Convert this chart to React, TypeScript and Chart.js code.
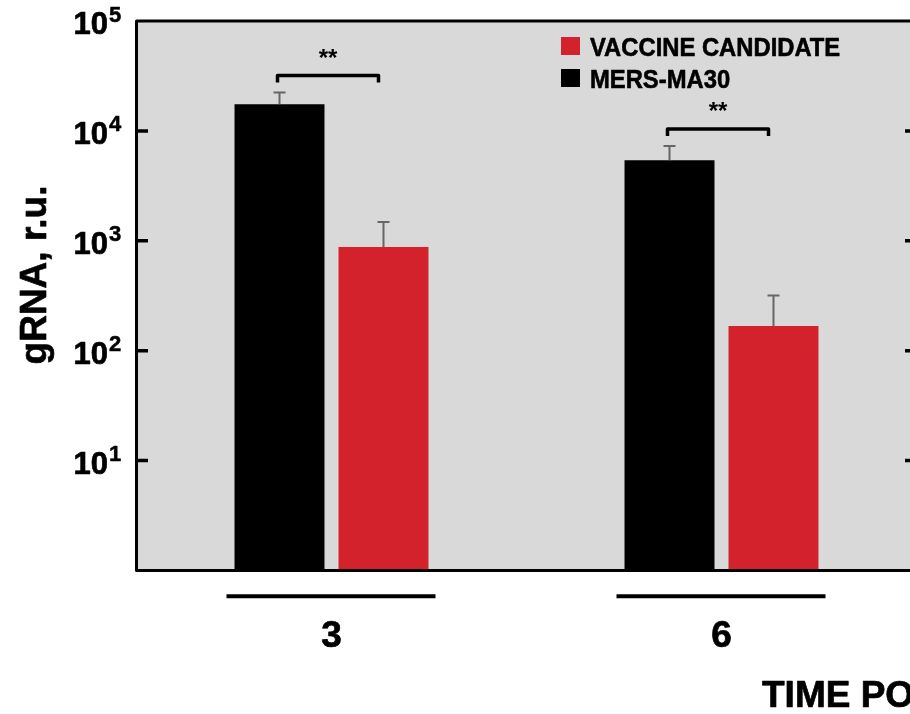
import React, { useEffect, useRef } from "react";
import { Chart, registerables } from "chart.js";

Chart.register(...registerables);

// Data: viral gRNA (relative units) per time point, mean and upper error
const timePoints = ["3", "6"];
const mersMeans = [17500, 5400];
const mersErrors = [4800, 1900];
const vaccineMeans = [880, 168];
const vaccineErrors = [600, 150];
const significance = ["**", "**"];
const decadeExponents = [1, 2, 3, 4, 5];
const seriesLabels = ["MERS-MA30", "VACCINE CANDIDATE"];
const seriesColors = ["#000000", "#d3222b"];
const yAxisTitle = "gRNA, r.u.";
const xAxisTitle = "TIME POINTS";

const FONT = '"Liberation Sans", Arial, Helvetica, sans-serif';
const errorSets = [mersErrors, vaccineErrors];
const meanSets = [mersMeans, vaccineMeans];

// heavy text: fill plus a thin outline of the same colour
function heavyText(ctx: CanvasRenderingContext2D, text: string, x: number, y: number, w = 0.7) {
  ctx.fillText(text, x, y);
  ctx.lineWidth = w;
  ctx.lineJoin = "round";
  ctx.strokeText(text, x, y);
}

const figurePlugin = {
  id: "figureDecor",
  beforeDraw(chart: any) {
    const { ctx, chartArea: a } = chart;
    ctx.save();
    ctx.fillStyle = "#d9d9d9";
    ctx.fillRect(a.left, a.top, a.right - a.left, a.bottom - a.top);
    ctx.restore();
  },
  afterDatasetsDraw(chart: any) {
    const { ctx, chartArea: a } = chart;
    const yScale = chart.scales.y;
    const xScale = chart.scales.x;
    ctx.save();

    // error bars (upper only)
    ctx.strokeStyle = "#666666";
    ctx.lineWidth = 2;
    const errTops: number[][] = [];
    chart.data.datasets.forEach((_: any, d: number) => {
      const meta = chart.getDatasetMeta(d);
      errTops[d] = [];
      meta.data.forEach((el: any, i: number) => {
        const top = yScale.getPixelForValue(meanSets[d][i] + errorSets[d][i]);
        errTops[d][i] = top;
        ctx.beginPath();
        ctx.moveTo(el.x, el.y);
        ctx.lineTo(el.x, top);
        ctx.moveTo(el.x - 6, top);
        ctx.lineTo(el.x + 6, top);
        ctx.stroke();
      });
    });

    // significance brackets
    const m0 = chart.getDatasetMeta(0);
    const m1 = chart.getDatasetMeta(1);
    ctx.strokeStyle = "#000000";
    ctx.fillStyle = "#000000";
    significance.forEach((mark, i) => {
      const x1 = m0.data[i].x - 2;
      const x2 = m1.data[i].x - 5;
      const by = Math.min(errTops[0][i], errTops[1][i]) - 17;
      ctx.lineWidth = 3.5;
      ctx.lineJoin = "round";
      ctx.lineCap = "butt";
      ctx.beginPath();
      ctx.moveTo(x1, by + 7);
      ctx.lineTo(x1, by);
      ctx.lineTo(x2, by);
      ctx.lineTo(x2, by + 7);
      ctx.stroke();
      ctx.font = `bold 24px ${FONT}`;
      ctx.textAlign = "center";
      ctx.textBaseline = "alphabetic";
      ctx.fillText(mark, (x1 + x2) / 2, by - 10);
    });

    // legend (listed in reverse order of the series)
    const lx = a.left + 424.5;
    const rows = [1, 0];
    rows.forEach((d, r) => {
      const sy = a.top + 16 + r * 32;
      ctx.fillStyle = seriesColors[d];
      ctx.fillRect(lx, sy, 19, 18);
      ctx.fillStyle = "#000000";
      ctx.strokeStyle = "#000000";
      ctx.font = `bold 26px ${FONT}`;
      ctx.textAlign = "left";
      ctx.textBaseline = "alphabetic";
      ctx.save();
      ctx.translate(lx + 29, sy + 19);
      ctx.scale(0.915, 1);
      heavyText(ctx, seriesLabels[d], 0, 0, 0.6);
      ctx.restore();
    });

    // frame
    ctx.strokeStyle = "#000000";
    ctx.lineWidth = 3;
    ctx.strokeRect(a.left, a.top, a.right - a.left, a.bottom - a.top);

    // inward tick marks, both sides
    ctx.lineWidth = 3.5;
    decadeExponents.forEach((k) => {
      if (k >= 5) return;
      const y = yScale.getPixelForValue(Math.pow(10, k));
      ctx.beginPath();
      ctx.moveTo(a.left, y);
      ctx.lineTo(a.left + 11.5, y);
      ctx.moveTo(a.right - 11.5, y);
      ctx.lineTo(a.right, y);
      ctx.stroke();
    });

    // tick labels as powers of ten
    ctx.fillStyle = "#000000";
    ctx.textBaseline = "alphabetic";
    decadeExponents.forEach((k) => {
      const y = yScale.getPixelForValue(Math.pow(10, k));
      ctx.font = `bold 31px ${FONT}`;
      ctx.textAlign = "right";
      heavyText(ctx, "10", a.left - 28.5, y + 13);
      ctx.font = `bold 22px ${FONT}`;
      ctx.textAlign = "left";
      heavyText(ctx, String(k), a.left - 27.5, y + 0.5, 0.5);
    });

    // category labels with underlines
    timePoints.forEach((label, i) => {
      const x = xScale.getPixelForValue(i);
      ctx.lineWidth = 4;
      ctx.beginPath();
      ctx.moveTo(x - 105, a.bottom + 25.8);
      ctx.lineTo(x + 104, a.bottom + 25.8);
      ctx.stroke();
      ctx.font = `bold 37px ${FONT}`;
      ctx.textAlign = "center";
      heavyText(ctx, label, x, a.bottom + 76.5);
    });

    // axis titles
    ctx.font = `bold 37px ${FONT}`;
    ctx.textAlign = "left";
    heavyText(ctx, xAxisTitle, a.left + 625.5, a.bottom + 136);

    ctx.save();
    ctx.translate(46, 275);
    ctx.rotate(-Math.PI / 2);
    ctx.textAlign = "center";
    heavyText(ctx, yAxisTitle, 0, 0);
    ctx.restore();

    ctx.restore();
  },
};

export default function App() {
  const ref = useRef<HTMLCanvasElement>(null);

  useEffect(() => {
    const chart = new Chart(ref.current as HTMLCanvasElement, {
      type: "bar",
      data: {
        labels: timePoints,
        datasets: [
          {
            label: seriesLabels[0],
            data: mersMeans,
            backgroundColor: seriesColors[0],
            borderWidth: 0,
          },
          {
            label: seriesLabels[1],
            data: vaccineMeans,
            backgroundColor: seriesColors[1],
            borderWidth: 0,
          },
        ],
      },
      options: {
        animation: false,
        responsive: false,
        devicePixelRatio: 1,
        datasets: {
          bar: { categoryPercentage: 0.5333, barPercentage: 0.865 },
        },
        layout: { padding: { left: 136.5, top: 21, right: 23.5, bottom: 143.5 } },
        scales: {
          x: { type: "category", display: false, offset: true },
          y: { type: "logarithmic", display: false, min: 1, max: 100000 },
        },
        plugins: {
          legend: { display: false },
          tooltip: { enabled: false },
          title: { display: false },
        },
      },
      plugins: [figurePlugin],
    });
    return () => chart.destroy();
  }, []);

  return (
    <div
      style={{
        position: "fixed",
        left: 0,
        top: 0,
        width: 910,
        height: 714,
        overflow: "hidden",
        background: "#ffffff",
      }}
    >
      <canvas
        ref={ref}
        width={940}
        height={714}
        style={{ display: "block", width: 940, height: 714 }}
      />
    </div>
  );
}
